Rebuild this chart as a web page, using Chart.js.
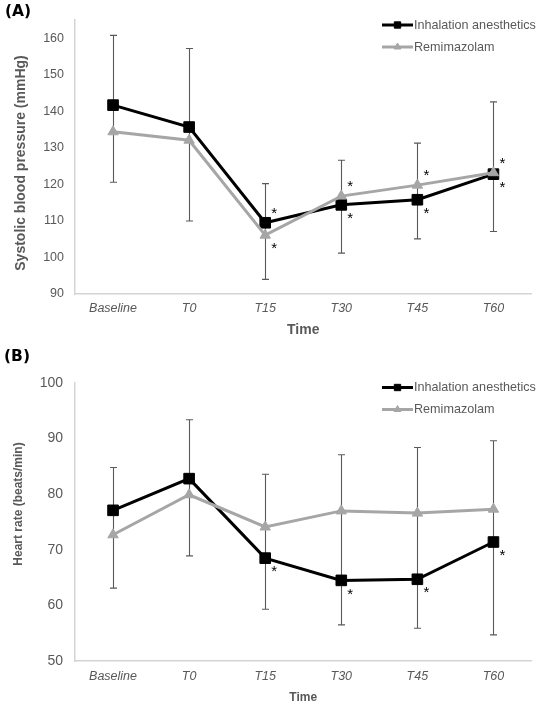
<!DOCTYPE html>
<html><head><meta charset="utf-8">
<script src="https://cdn.jsdelivr.net/npm/chart.js@4"></script>
<style>
html,body{margin:0;padding:0;background:#fff;width:540px;height:705px;overflow:hidden}
.wrap{position:absolute;left:0;width:540px}
#wa{top:0;height:340px}
#wb{top:340px;height:365px}
canvas{display:block}
</style></head><body>
<div class="wrap" id="wa"><canvas id="ca" width="540" height="340"></canvas></div>
<div class="wrap" id="wb"><canvas id="cb" width="540" height="365"></canvas></div>
<script>
const categories = ['Baseline','T0','T15','T30','T45','T60'];
const seriesNames = ['Inhalation anesthetics','Remimazolam'];

const sbpInhalation   = [141.7, 135.7, 109.5, 114.4, 115.8, 122.8];
const sbpRemimazolam  = [134.4, 132.1, 106.1, 116.8, 119.8, 123.2];
const sbpErrHigh      = [160.8, 157.2, 120.2, 126.6, 131.3, 142.6];
const sbpErrLow       = [120.6, 110.0,  94.0, 101.2, 105.1, 107.1];
const sbpSigInhalation  = [0,0,1,1,1,1];
const sbpSigRemimazolam = [0,0,1,1,1,1];
const sbpTicks = [90,100,110,120,130,140,150,160];

const hrInhalation   = [77.1, 82.8, 68.5, 64.5, 64.7, 71.4];
const hrRemimazolam  = [72.7, 79.9, 74.1, 77.0, 76.6, 77.3];
const hrErrHigh      = [84.8, 93.4, 83.6, 87.1, 88.4, 89.6];
const hrErrLow       = [63.1, 68.9, 59.3, 56.5, 55.9, 54.7];
const hrSigInhalation  = [0,0,1,1,1,1];
const hrSigRemimazolam = [0,0,0,0,0,0];
const hrTicks = [50,60,70,80,90,100];

const FONT = "'Liberation Sans', Arial, sans-serif";
Chart.defaults.font.family = FONT;
Chart.defaults.color = '#595959';

const extrasPlugin = {
  id: 'extras',
  beforeDatasetsDraw(chart, args, o) {
    const ctx = chart.ctx, xs = chart.scales.x, ys = chart.scales.y;
    ctx.save();
    ctx.strokeStyle = '#595959';
    ctx.lineWidth = 1.1;
    o.errHigh.forEach((h, i) => {
      const x = Math.round(xs.getPixelForValue(i)) + 0.5;
      const y1 = ys.getPixelForValue(h), y2 = ys.getPixelForValue(o.errLow[i]);
      ctx.beginPath();
      ctx.moveTo(x, y1); ctx.lineTo(x, y2);
      ctx.moveTo(x - 3.5, y1); ctx.lineTo(x + 3.5, y1);
      ctx.moveTo(x - 3.5, y2); ctx.lineTo(x + 3.5, y2);
      ctx.stroke();
    });
    ctx.restore();
  },
  afterDatasetsDraw(chart, args, o) {
    const ctx = chart.ctx, xs = chart.scales.x, ys = chart.scales.y;
    const ds = chart.data.datasets;
    ctx.save();
    // asterisks
    ctx.fillStyle = '#000';
    ctx.font = '15px ' + FONT;
    ctx.textAlign = 'center';
    ctx.textBaseline = 'middle';
    o.sig.forEach((flags, d) => {
      const other = 1 - d;
      flags.forEach((f, i) => {
        if (!f) return;
        const v = ds[d].data[i], ov = ds[other].data[i];
        const above = v >= ov;
        const x = xs.getPixelForValue(i) + 9;
        const y = ys.getPixelForValue(v) + (above ? -12 : 11) + 3;
        ctx.fillText('*', x, y);
      });
    });
    // legend
    ds.forEach((d, i) => {
      const y = o.legendY + i * o.legendGap;
      ctx.strokeStyle = d.borderColor;
      ctx.lineWidth = 3;
      ctx.beginPath(); ctx.moveTo(382, y); ctx.lineTo(413, y); ctx.stroke();
      ctx.fillStyle = d.backgroundColor;
      ctx.strokeStyle = d.borderColor;
      ctx.lineWidth = 1;
      Chart.helpers.drawPoint(ctx, {pointStyle: d.pointStyle, radius: d.pointStyle === 'rect' ? 4.5 : 4, rotation: 0, borderWidth: 1}, 397.5, y);
      ctx.fillStyle = '#595959';
      ctx.font = '12.6px ' + FONT;
      ctx.textAlign = 'left';
      ctx.textBaseline = 'middle';
      ctx.fillText(d.label, 414, y + 0.5);
    });
    // panel label
    ctx.fillStyle = '#000';
    ctx.font = "bold 15.5px 'DejaVu Sans', Verdana, sans-serif";
    ctx.textAlign = 'left';
    ctx.textBaseline = 'middle';
    ctx.fillText(o.panel, o.panelX, o.panelY);
    // y title
    ctx.save();
    ctx.translate(o.yTitleX, o.yTitleY);
    ctx.rotate(-Math.PI / 2);
    ctx.fillStyle = '#595959';
    ctx.font = o.yTitleFont;
    ctx.textAlign = 'center';
    ctx.textBaseline = 'middle';
    ctx.fillText(o.yTitle, 0, 0);
    ctx.restore();
    ctx.restore();
  }
};

function makeChart(id, cfg) {
  return new Chart(document.getElementById(id), {
    type: 'line',
    data: {
      labels: categories,
      datasets: [
        {label: seriesNames[0], data: cfg.inh, borderColor: '#000000', backgroundColor: '#000000',
         borderWidth: 3, pointStyle: 'rect', pointRadius: 7.5, pointBorderWidth: 1, tension: 0, order: 1},
        {label: seriesNames[1], data: cfg.rem, borderColor: '#a6a6a6', backgroundColor: '#a6a6a6',
         borderWidth: 3, pointStyle: 'triangle', pointRadius: 6, pointBorderWidth: 1, tension: 0, order: 0}
      ]
    },
    options: {
      responsive: false,
      animation: false,
      events: [],
      layout: {padding: {top: cfg.top, right: 3, left: 0, bottom: 0}},
      plugins: {
        legend: {display: false},
        tooltip: {enabled: false},
        extras: {
          errHigh: cfg.errHigh, errLow: cfg.errLow, sig: cfg.sig,
          legendY: cfg.legendY, legendGap: 22,
          panel: cfg.panel, panelX: cfg.panelX, panelY: cfg.panelY,
          yTitle: cfg.yTitle, yTitleX: cfg.yTitleX, yTitleY: cfg.yTitleY, yTitleFont: cfg.yTitleFont
        }
      },
      scales: {
        x: {
          type: 'category',
          offset: true,
          grid: {display: false, drawTicks: false},
          border: {display: true, color: '#d4d4d4', width: 1.5},
          ticks: {font: {size: 12.5, style: 'italic'}, color: '#595959', padding: cfg.xPad, maxRotation: 0, autoSkip: false},
          title: {display: true, text: 'Time', color: '#595959', font: {size: cfg.timeSize, weight: 'bold', lineHeight: 1.2}, padding: {top: 0, bottom: cfg.timePad}},
          afterFit(s) { s.height = cfg.xHeight; }
        },
        y: {
          min: cfg.min, max: cfg.max,
          grid: {display: false, drawTicks: false},
          border: {display: true, color: '#d4d4d4', width: 1.5},
          ticks: {font: {size: cfg.yTickSize}, color: '#595959', padding: cfg.yPad},
          afterBuildTicks(s) { s.ticks = cfg.ticks.map(v => ({value: v})); },
          afterFit(s) { s.width = 75; }
        }
      }
    },
    plugins: [extrasPlugin]
  });
}

makeChart('ca', {
  inh: sbpInhalation, rem: sbpRemimazolam, errHigh: sbpErrHigh, errLow: sbpErrLow,
  sig: [sbpSigInhalation, sbpSigRemimazolam], ticks: sbpTicks, min: 90, max: 165,
  top: 20, xHeight: 46, xPad: 7, timeSize: 14, timePad: 1.6, yTickSize: 12.5, yPad: 11,
  legendY: 25, panel: '(A)', panelX: 5, panelY: 12,
  yTitle: 'Systolic blood pressure (mmHg)', yTitleX: 21, yTitleY: 163, yTitleFont: 'bold 14px ' + FONT
});

makeChart('cb', {
  inh: hrInhalation, rem: hrRemimazolam, errHigh: hrErrHigh, errLow: hrErrLow,
  sig: [hrSigInhalation, hrSigRemimazolam], ticks: hrTicks, min: 50, max: 100,
  top: 43, xHeight: 44, xPad: 8, timeSize: 12, timePad: 0, yTickSize: 14, yPad: 12,
  legendY: 47.5, panel: '(B)', panelX: 4, panelY: 17,
  yTitle: 'Heart rate (beats/min)', yTitleX: 18.5, yTitleY: 164, yTitleFont: 'bold 12px ' + FONT
});
</script>
</body></html>
